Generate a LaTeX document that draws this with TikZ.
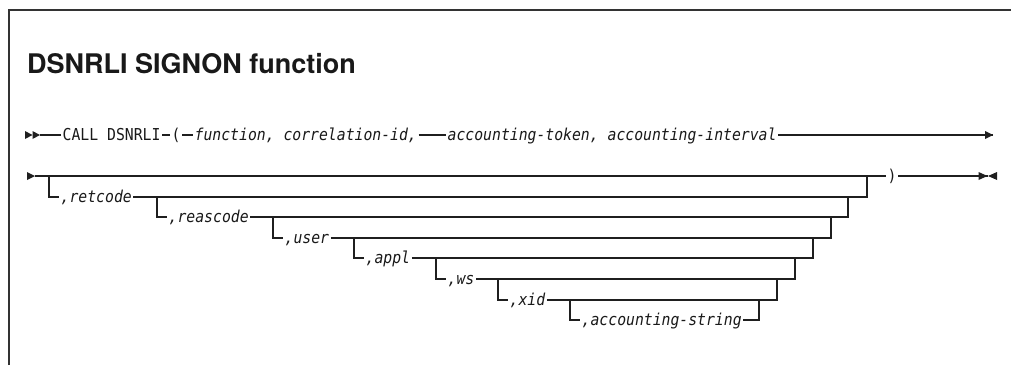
\documentclass[tikz,border=0pt]{standalone}
\usepackage{fontspec}
\setsansfont{TeX Gyre Heros}
\newfontfamily\rrfont[FakeStretch=0.9]{DejaVu Sans Mono}
\begin{document}
\begin{tikzpicture}[x=1pt,y=-1pt,
  rail/.style={line width=1.1pt, draw=black!88},
  frameline/.style={line width=1.4pt, draw=black!80},
  tip/.style={fill=black!88},
  txt/.style={inner xsep=1.5pt, inner ysep=0pt, text height=11pt, text depth=0pt,
              anchor=west, font=\rrfont\fontsize{16.4}{18}\selectfont, text=black!90},
  titlefont/.style={anchor=base west, inner sep=0pt,
              font=\sffamily\bfseries\fontsize{27}{30}\selectfont, text=black!90}]
\useasboundingbox (0,0) rectangle (1011,365);

% open frame: left and top edges only
\draw[frameline] (9,365) -- (9,10) -- (1011,10);

\node[titlefont] (title) at (27,73) {DSNRLI SIGNON function};

% ---- first line of the syntax ----
\coordinate (r1s) at (40,135);
\coordinate (r1e) at (993,135);
\node[txt] (call) at (61,135) {CALL DSNRLI};
\node[txt] (lp)   at (170,135) {(};
\node[txt] (fn)   at (193,135) {\itshape function, correlation-id,};
\node[txt] (acct) at (446,135) {\itshape accounting-token, accounting-interval};
\draw[rail] (r1s) -- (call) -- (lp) -- (fn) -- (acct) -- (r1e);
% start marker and continuation arrow
\fill[tip] (32.5,135) -- ++(-7.5,-4) -- ++(0,8) -- cycle;
\fill[tip] (r1s) -- ++(-7.5,-4) -- ++(0,8) -- cycle;
\fill[tip] (r1e) -- ++(-8,-4) -- ++(0,8) -- cycle;

% ---- second line of the syntax ----
\coordinate (r2s) at (35,176);
\coordinate (r2e) at (987.5,176);
\node[txt] (rp) at (886,176) {)};
\draw[rail] (r2s) -- (rp) -- (r2e);
\fill[tip] (r2s) -- ++(-8,-4) -- ++(0,8) -- cycle;
\fill[tip] (r2e) -- ++(-9,-4) -- ++(0,8) -- cycle;
\fill[tip] (r2e) ++(0.5,0) -- ++(9,-4) -- ++(0,8) -- cycle;

% ---- nested optional parameters ----
\foreach \k/\lab/\y/\xl/\xr/\py in {
    1/retcode/197/49/867/176,
    2/reascode/217/157/848/197,
    3/user/238/273/831/217,
    4/appl/258/354/813/238,
    5/ws/279/436/795/258,
    6/xid/300/498/777/279,
    7/accounting-string/320/570/759/300}{
  \coordinate (b\k) at (\xl,\py);
  \coordinate (j\k) at (\xr,\py);
  \node[txt] (opt\k) at (\xl+10,\y) {\itshape ,\lab};
  \draw[rail] (b\k) |- (opt\k);
  \draw[rail] (opt\k) -| (j\k);
}
\end{tikzpicture}
\end{document}
